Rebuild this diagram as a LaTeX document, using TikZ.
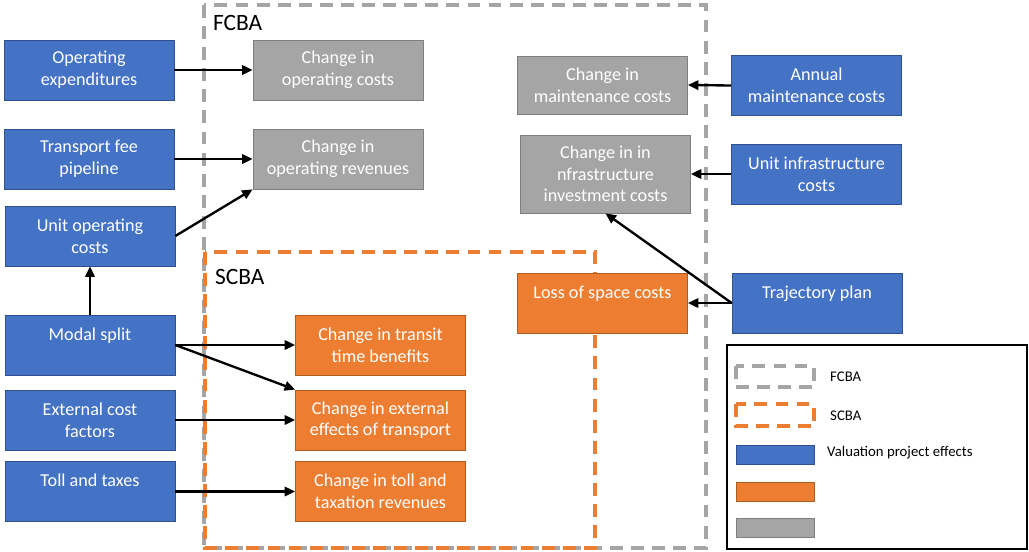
\documentclass[tikz,border=0pt]{standalone}
\usepackage{fontspec}
\setmainfont{Carlito}
\usetikzlibrary{arrows.meta}

\definecolor{effblue}{HTML}{4472C4}
\definecolor{effblueline}{HTML}{2F528F}
\definecolor{scbaorange}{HTML}{ED7D31}
\definecolor{scbaline}{HTML}{AE5A21}
\definecolor{fcbagray}{HTML}{A5A5A5}
\definecolor{fcbaline}{HTML}{7F7F7F}

\begin{document}
\begin{tikzpicture}[x=0.03cm,y=-0.03cm,
	box/.style={rectangle,draw,line width=0.6pt,text=white,align=center,
		minimum width=5.1cm,minimum height=1.8cm,inner sep=2pt,
		font=\fontsize{15.5}{18.5}\selectfont},
	input/.style={box,fill=effblue,draw=effblueline},
	social/.style={box,fill=scbaorange,draw=scbaline},
	financial/.style={box,fill=fcbagray,draw=fcbaline},
	conn/.style={line width=2pt,-{Triangle[length=9pt,width=8pt]}},
	fcbaframe/.style={draw=fcbagray,line width=3pt,dash pattern=on 11pt off 7pt},
	scbaframe/.style={draw=scbaorange,line width=3pt,dash pattern=on 11pt off 7pt},
	legendtext/.style={anchor=west,inner sep=0pt,font=\fontsize{12.6}{15}\selectfont}]

	\useasboundingbox (0,0) rectangle (1029,551);

	\draw[fcbaframe] (204,5) rectangle (706,548);
	\draw[scbaframe] (205,252) rectangle (595,548);
	\node[anchor=west,font=\fontsize{20}{24}\selectfont] (fcbalabel) at (209,23) {FCBA};
	\node[anchor=west,font=\fontsize{20}{24}\selectfont] (scbalabel) at (211,277) {SCBA};

	\node[input] (opex) at (89,70) {Operating\\expenditures};
	\node[input] (fee) at (89,159) {Transport fee\\pipeline};
	\node[input] (unitop) at (90,236) {Unit operating\\costs};
	\node[input] (modal) at (90,345) {Modal split\\~};
	\node[input] (extcost) at (90,420) {External cost\\factors};
	\node[input] (toll) at (90,491.5) {Toll and taxes\\~};
	\node[input] (annual) at (816.5,85.5) {Annual\\maintenance costs};
	\node[input] (unitinf) at (816.5,174) {Unit infrastructure\\costs};
	\node[input] (traj) at (817,303) {Trajectory plan\\~};

	\node[financial] (chopc) at (338,70) {Change in\\operating costs};
	\node[financial] (chrev) at (338,159) {Change in\\operating revenues};
	\node[financial,minimum height=1.74cm] (chmaint) at (602.5,85) {Change in\\maintenance costs};
	\node[financial,minimum height=2.34cm] (chinv) at (605.5,174) {Change in in\\nfrastructure\\investment costs};

	\node[social] (loss) at (602.5,303) {Loss of space costs\\~};
	\node[social] (transit) at (380.5,345) {Change in transit\\time benefits};
	\node[social] (extfx) at (380.5,420) {Change in external\\effects of transport};
	\node[social] (tolltax) at (380.5,491.5) {Change in toll and\\taxation revenues};

	\draw[conn] (opex.east) -- (chopc.west);
	\draw[conn] (fee.east) -- (chrev.west);
	\draw[conn] (unitop.east) -- (chrev.south west);
	\draw[conn] (modal.north) -- (unitop.south);
	\draw[conn] (modal.east) -- (transit.west);
	\draw[conn] (modal.east) -- (extfx.north west);
	\draw[conn] (extcost.east) -- (extfx.west);
	\draw[conn] (toll.east) -- (tolltax.west);
	\draw[conn] (annual.west) -- (chmaint.east);
	\draw[conn] (unitinf.west) -- (chinv.east);
	\draw[conn] (traj.west) -- (loss.east);
	\draw[conn] (traj.west) -- (chinv.south);

	\draw[line width=1pt] (727,345) rectangle (1027,549);
	\draw[fcbaframe] (736,366) rectangle (814,387);
	\draw[scbaframe] (736,404) rectangle (814,426);
	\node[fill=effblue,draw=effblueline,line width=0.6pt,minimum width=2.34cm,minimum height=0.57cm,inner sep=0pt] (keyblue) at (775,454.5) {};
	\node[fill=scbaorange,draw=scbaline,line width=0.6pt,minimum width=2.34cm,minimum height=0.57cm,inner sep=0pt] (keyorange) at (775,491.5) {};
	\node[fill=fcbagray,draw=fcbaline,line width=0.6pt,minimum width=2.34cm,minimum height=0.57cm,inner sep=0pt] (keygray) at (775,528) {};
	\node[legendtext] (keyfcba) at (830,377) {FCBA};
	\node[legendtext] (keyscba) at (830,416) {SCBA};
	\node[legendtext] (keyeffects) at (827,453) {Valuation project effects};

\end{tikzpicture}
\end{document}
